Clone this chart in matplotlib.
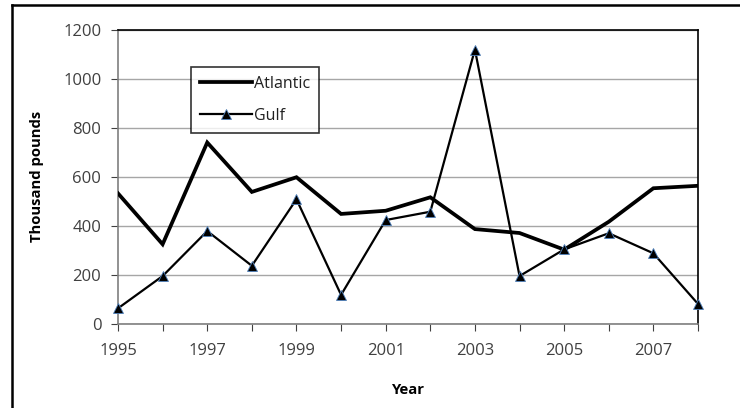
import matplotlib.pyplot as plt
from matplotlib.lines import Line2D

# data
years = [1995, 1996, 1997, 1998, 1999, 2000, 2001, 2002, 2003, 2004, 2005, 2006, 2007, 2008]
atlantic = [532, 324, 740, 538, 598, 448, 461, 516, 386, 370, 302, 416, 553, 563]
gulf = [62, 194, 378, 236, 508, 117, 423, 457, 1120, 194, 303, 369, 287, 80]
label_years = [1995, 1997, 1999, 2001, 2003, 2005, 2007]

plt.rcParams['font.family'] = ['Open Sans', 'DejaVu Sans']

fig = plt.figure(figsize=(7.4, 4.08), dpi=100)
ax = fig.add_axes([118 / 740, 1 - 323.5 / 408, 580 / 740, 293.5 / 408])

ax.plot(years, atlantic, color='black', lw=2.7, solid_joinstyle='miter', label='Atlantic', zorder=3)
ax.plot(years, gulf, color='black', lw=1.6, marker='^', markersize=7,
        markerfacecolor='black', markeredgecolor='#4F81BD', markeredgewidth=0.6,
        label='Gulf', zorder=4, clip_on=False)

ax.set_xlim(1995, 2008)
ax.set_ylim(0, 1200)
ax.set_yticks(range(0, 1201, 200))
ax.set_xticks(years)
ax.set_xticklabels([str(y) if y in label_years else '' for y in years])
ax.tick_params(axis='both', labelsize=12, colors='#404040', width=0.8)
ax.tick_params(axis='y', length=5, pad=7)
ax.tick_params(axis='x', length=5, pad=9)
ax.grid(axis='y', color='#A6A6A6', lw=1)
ax.set_axisbelow(True)

for s in ['top', 'right']:
    ax.spines[s].set_color('black')
    ax.spines[s].set_linewidth(1.2)
for s in ['left', 'bottom']:
    ax.spines[s].set_color('#7F7F7F')
    ax.spines[s].set_linewidth(1.2)

ax.set_ylabel('Thousand pounds', fontsize=10.7, fontweight='bold', labelpad=14)
ax.set_xlabel('Year', fontsize=10.7, fontweight='bold', labelpad=17)

leg = ax.legend(loc='upper left', bbox_to_anchor=((191 - 118) / 580, (323.5 - 67) / 293.5),
                frameon=True, fancybox=False, edgecolor='black', fontsize=11.5,
                handlelength=3.3, handletextpad=0.1, labelspacing=1.0, borderpad=0.55,
                borderaxespad=0)
leg.get_frame().set_linewidth(1.2)
for t in leg.get_texts():
    t.set_color('#202020')

# outer frame of the embedded chart
fig.add_artist(Line2D([12 / 740, 12 / 740], [0, 1 - 5 / 408], color='black', lw=1.8, transform=fig.transFigure))
fig.add_artist(Line2D([12 / 740, 1], [1 - 5 / 408, 1 - 5 / 408], color='black', lw=1.8, transform=fig.transFigure))

fig.savefig('out.png', dpi=100)
